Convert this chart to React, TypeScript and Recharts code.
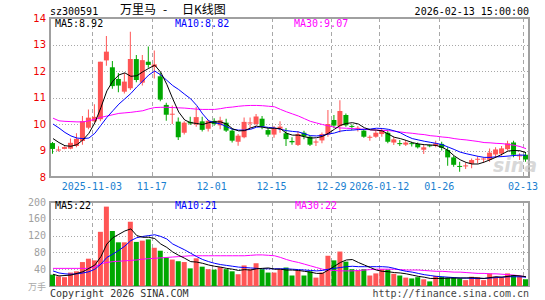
import { Bar, Cell, ComposedChart, Line, XAxis, YAxis } from 'recharts'

// trading days shown on the daily K chart
const DATES = [
  '2025-10-23', '2025-10-24', '2025-10-27', '2025-10-28', '2025-10-29', '2025-10-30', '2025-10-31',
  '2025-11-03', '2025-11-04', '2025-11-05', '2025-11-06', '2025-11-07',
  '2025-11-10', '2025-11-11', '2025-11-12', '2025-11-13', '2025-11-14',
  '2025-11-17', '2025-11-18', '2025-11-19', '2025-11-20', '2025-11-21',
  '2025-11-24', '2025-11-25', '2025-11-26', '2025-11-27', '2025-11-28',
  '2025-12-01', '2025-12-02', '2025-12-03', '2025-12-04', '2025-12-05',
  '2025-12-08', '2025-12-09', '2025-12-10', '2025-12-11', '2025-12-12',
  '2025-12-15', '2025-12-16', '2025-12-17', '2025-12-18', '2025-12-19',
  '2025-12-22', '2025-12-23', '2025-12-24', '2025-12-25', '2025-12-26',
  '2025-12-29', '2025-12-30', '2025-12-31',
  '2026-01-05', '2026-01-06', '2026-01-07', '2026-01-08', '2026-01-09',
  '2026-01-12', '2026-01-13', '2026-01-14', '2026-01-15', '2026-01-16',
  '2026-01-19', '2026-01-20', '2026-01-21', '2026-01-22', '2026-01-23',
  '2026-01-26', '2026-01-27', '2026-01-28', '2026-01-29', '2026-01-30',
  '2026-02-02', '2026-02-03', '2026-02-04', '2026-02-05', '2026-02-06',
  '2026-02-09', '2026-02-10', '2026-02-11', '2026-02-12', '2026-02-13',
]

const OPEN = [
  9.28, 9.0, 9.06, 9.07, 9.17, 9.36, 9.86, 10.1, 10.18, 12.4,
  12.14, 11.7, 11.22, 11.35, 12.45, 11.56, 12.35, 12.15, 11.8, 10.72,
  10.35, 10.09, 9.67, 10.08, 9.98, 10.1, 9.82, 10.12, 9.95, 10.05,
  9.75, 9.33, 9.5, 10.02, 10.0, 10.2, 9.77, 9.6, 9.82, 9.65,
  9.36, 9.21, 9.67, 9.52, 9.3, 9.38, 9.6, 10.15, 9.92, 10.34,
  9.92, 9.82, 9.75, 9.48, 9.52, 9.62, 9.67, 9.3, 9.28, 9.22,
  9.27, 9.25, 9.03, 9.19, 9.17, 9.25, 9.02, 8.74, 8.41, 8.4,
  8.5, 8.65, 8.66, 8.65, 8.85, 8.88, 9.05, 9.3, 8.78, 8.84,
]
const CLOSE = [
  9.06, 9.02, 9.13, 9.29, 9.44, 10.11, 10.24, 10.27, 12.35, 12.73,
  11.43, 11.45, 11.6, 12.45, 11.66, 12.41, 12.23, 12.25, 10.92, 10.35,
  10.38, 9.5, 10.05, 10.02, 10.26, 9.78, 10.12, 10.0, 10.14, 9.75,
  9.37, 9.56, 10.08, 10.06, 10.28, 9.92, 9.6, 9.84, 9.9, 9.43,
  9.31, 9.62, 9.53, 9.22, 9.34, 9.62, 10.0, 9.94, 10.49, 9.95,
  9.89, 9.85, 9.52, 9.51, 9.67, 9.77, 9.33, 9.42, 9.24, 9.3,
  9.24, 9.12, 9.12, 9.16, 9.27, 9.1, 8.74, 8.46, 8.38, 8.43,
  8.64, 8.68, 8.68, 8.92, 9.04, 9.08, 9.27, 8.84, 8.8, 8.66,
]
const HIGH = [
  9.32, 9.16, 9.16, 9.45, 9.65, 10.3, 10.55, 10.75, 12.35, 13.32,
  12.38, 11.92, 11.92, 13.48, 12.6, 12.6, 12.92, 12.77, 11.95, 10.8,
  10.7, 10.25, 10.1, 10.27, 10.65, 10.27, 10.16, 10.22, 10.27, 10.2,
  9.85, 9.62, 10.25, 10.25, 10.38, 10.3, 9.85, 9.92, 10.1, 9.85,
  9.5, 9.74, 9.75, 9.58, 9.42, 9.68, 10.53, 10.34, 10.9, 10.4,
  9.99, 9.92, 9.8, 9.58, 9.75, 9.84, 9.75, 9.52, 9.4, 9.4,
  9.33, 9.3, 9.21, 9.22, 9.37, 9.33, 9.12, 8.79, 8.58, 8.55,
  8.7, 8.77, 8.72, 9.08, 9.12, 9.17, 9.37, 9.37, 8.9, 8.92,
]
const LOW = [
  8.88, 8.96, 9.05, 9.05, 9.12, 9.22, 9.8, 10.05, 10.1, 12.2,
  11.33, 11.2, 11.15, 11.28, 11.58, 11.45, 12.12, 11.72, 10.86, 10.12,
  10.0, 9.4, 9.6, 9.96, 9.9, 9.72, 9.72, 9.93, 9.8, 9.7,
  9.3, 9.18, 9.46, 9.84, 9.93, 9.8, 9.52, 9.48, 9.67, 9.17,
  9.22, 9.17, 9.42, 9.17, 9.17, 9.27, 9.52, 9.84, 9.68, 9.9,
  9.77, 9.72, 9.48, 9.37, 9.48, 9.52, 9.27, 9.21, 9.17, 9.17,
  9.15, 9.08, 8.87, 9.12, 9.12, 9.0, 8.42, 8.39, 8.2, 8.3,
  8.33, 8.52, 8.55, 8.58, 8.75, 8.8, 9.0, 8.75, 8.64, 8.58,
]

// price moving averages
const MA5 = [
  9.45, 9.3, 9.18, 9.16, 9.22, 9.4, 9.65, 10.05, 10.62, 11.25,
  11.62, 11.85, 11.93, 11.8, 11.82, 11.97, 12.1, 12.22, 11.95, 11.5,
  10.95, 10.45, 10.15, 10.05, 10.02, 9.98, 10.05, 10.08, 10.08, 10.0,
  9.82, 9.74, 9.75, 9.85, 9.92, 9.88, 9.84, 9.84, 9.82, 9.65,
  9.58, 9.58, 9.52, 9.47, 9.48, 9.53, 9.65, 9.8, 9.95, 10.02,
  10.05, 10.0, 9.86, 9.78, 9.77, 9.74, 9.62, 9.5, 9.45, 9.38,
  9.3, 9.25, 9.22, 9.21, 9.19, 9.12, 9.0, 8.8, 8.65, 8.55,
  8.49, 8.49, 8.56, 8.65, 8.75, 8.86, 8.98, 9.0, 8.99, 8.92,
]
const MA10 = [
  10.0, 9.85, 9.68, 9.55, 9.47, 9.45, 9.47, 9.65, 9.95, 10.25,
  10.5, 10.75, 10.95, 11.15, 11.4, 11.62, 11.85, 12.0, 11.85, 11.65,
  11.45, 11.3, 11.12, 10.95, 10.7, 10.38, 10.12, 10.05, 10.0, 9.9,
  9.8, 9.77, 9.77, 9.8, 9.88, 9.9, 9.87, 9.85, 9.8, 9.75,
  9.72, 9.7, 9.63, 9.56, 9.55, 9.57, 9.62, 9.66, 9.73, 9.76,
  9.77, 9.79, 9.8, 9.81, 9.84, 9.83, 9.8, 9.74, 9.67, 9.55,
  9.45, 9.4, 9.35, 9.31, 9.27, 9.22, 9.13, 9.04, 8.94, 8.88,
  8.83, 8.78, 8.74, 8.74, 8.76, 8.77, 8.79, 8.81, 8.83, 8.82,
]
const MA30 = [
  10.22, 10.12, 10.1, 10.09, 10.08, 10.08, 10.12, 10.18, 10.25, 10.3,
  10.35, 10.4, 10.42, 10.44, 10.47, 10.5, 10.57, 10.62, 10.63, 10.63,
  10.62, 10.61, 10.6, 10.58, 10.56, 10.55, 10.55, 10.55, 10.58, 10.62,
  10.64, 10.67, 10.69, 10.7, 10.7, 10.69, 10.67, 10.65, 10.55, 10.46,
  10.38, 10.3, 10.2, 10.1, 10.04, 9.98, 9.93, 9.88, 9.85, 9.84,
  9.83, 9.81, 9.8, 9.78, 9.77, 9.76, 9.75, 9.73, 9.7, 9.67,
  9.65, 9.62, 9.6, 9.56, 9.54, 9.51, 9.49, 9.45, 9.42, 9.4,
  9.37, 9.34, 9.3, 9.29, 9.27, 9.26, 9.23, 9.2, 9.15, 9.07,
]

// volume in 万手
const VOL = [
  27, 23, 21, 32, 35, 57, 65, 61, 129, 189,
  131, 104, 104, 153, 105, 108, 111, 91, 84, 68,
  63, 59, 57, 42, 66, 46, 40, 39, 45, 40,
  35, 28, 49, 40, 54, 40, 32, 32, 40, 44,
  25, 37, 25, 35, 20, 32, 72, 61, 82, 58,
  40, 37, 40, 25, 30, 40, 39, 29, 25, 20,
  18, 21, 16, 11, 24, 22, 20, 20, 18, 14,
  22, 21, 14, 30, 22, 20, 30, 26, 22, 16,
]
const VMA5 = [
  28, 24, 25, 26, 30, 34, 42, 50, 70, 100,
  115, 123, 131, 136, 120, 116, 116, 113, 100, 92,
  81, 73, 66, 58, 57, 54, 50, 47, 45, 42,
  40, 37, 39, 38, 41, 42, 43, 40, 40, 38,
  38, 37, 35, 33, 30, 30, 38, 47, 56, 62,
  63, 56, 50, 44, 38, 35, 34, 32, 31, 29,
  26, 23, 21, 18, 18, 18, 19, 19, 19, 19,
  20, 19, 18, 20, 22, 21, 23, 25, 24, 22,
]
const VMA10 = [
  36, 31, 29, 28, 29, 31, 34, 40, 52, 68,
  76, 85, 95, 108, 115, 118, 120, 122, 118, 112,
  100, 93, 86, 78, 70, 63, 58, 54, 51, 49,
  47, 45, 44, 43, 42, 41, 41, 41, 41, 41,
  40, 39, 38, 37, 36, 37, 40, 42, 44, 46,
  47, 46, 46, 46, 46, 46, 45, 42, 38, 35,
  33, 30, 27, 25, 23, 22, 21, 20, 19, 19,
  18, 18, 18, 19, 20, 21, 22, 22, 22, 21,
]
const VMA30 = [
  42, 42, 42, 42, 42, 42, 42, 46, 53, 56,
  58, 59, 60, 61, 62, 64, 65, 66, 67, 68,
  69, 70, 71, 72, 72, 72, 72, 72, 72, 72,
  72, 72, 72, 73, 74, 74, 73, 72, 68, 63,
  59, 56, 52, 48, 44, 40, 38, 37, 36, 36,
  36, 37, 38, 39, 40, 40, 40, 40, 39, 38,
  38, 38, 37, 36, 35, 35, 34, 33, 33, 32,
  31, 30, 30, 29, 29, 28, 27, 26, 24, 22,
]

const TICK_DATES = ['2025-11-03', '2025-11-17', '2025-12-01', '2025-12-15', '2025-12-29', '2026-01-12', '2026-01-26', '2026-02-13']
const TICK_LABELS = ['2025-11-03', '11-17', '12-01', '12-15', '12-29', '2026-01-12', '01-26', '02-13']
const PRICE_DOMAIN = [8, 14]
const PRICE_TICKS = [8, 9, 10, 11, 12, 13, 14]
const PRICE_GRID = [9, 10, 11, 12, 13]
const VOL_DOMAIN = [0, 200]
const VOL_TICKS = [40, 80, 120, 160, 200]
const VOL_GRID = [40, 80, 120, 160]

const RED = '#ff5555'
const GREEN = '#00a800'
const MONO = '"DejaVu Sans Mono", "Liberation Mono", monospace'
const GRID = '#a8a8a8'

// layout of the two panels (page pixels)
const W = 545
const LEFT = 50
const RIGHT = 16
const P_TOP = 18
const P_H = 159
const V_OFF = 190
const V_TOP = 12
const V_H = 84

const rows = DATES.map((d, i) => ({
  d,
  body: [Math.min(OPEN[i], CLOSE[i]), Math.max(OPEN[i], CLOSE[i])],
  wick: [LOW[i], HIGH[i]],
  up: CLOSE[i] >= OPEN[i],
  ma5: MA5[i],
  ma10: MA10[i],
  ma30: MA30[i],
  vol: VOL[i],
  vma5: VMA5[i],
  vma10: VMA10[i],
  vma30: VMA30[i],
}))

// panel grid: dotted value lines, dashed day lines on the left edge of the labelled slot, frame
function PanelGrid({ top, h, domain, grid }: { top: number; h: number; domain: number[]; grid: number[] }) {
  const plotW = W - LEFT - RIGHT
  const slot = plotW / DATES.length
  const yOf = (v: number) => top + ((domain[1] - v) / (domain[1] - domain[0])) * h
  const dayXs = TICK_DATES.map((d) => Math.round(LEFT + slot * DATES.indexOf(d)) + 0.5)
  return (
    <g shapeRendering="crispEdges" fill="none">
      {grid.map((v) => (
        <path key={'h' + v} d={`M${LEFT} ${Math.round(yOf(v)) + 0.5}H${LEFT + plotW}`} stroke={GRID} strokeDasharray="1 2" />
      ))}
      {dayXs.map((x) => (
        <path key={'v' + x} d={`M${x} ${top}V${top + h}`} stroke={GRID} strokeDasharray="4 3" />
      ))}
      <path d={`M${LEFT} ${top}H${LEFT + plotW}V${top + h}H${LEFT}Z`} stroke="#a0a0a0" strokeWidth={2} />
    </g>
  )
}

function PriceChart() {
  return (
    <ComposedChart width={W} height={200} data={rows} margin={{ top: P_TOP, right: RIGHT, bottom: 3, left: 0 }}>
      <XAxis
        dataKey="d"
        ticks={TICK_DATES}
        interval={0}
        tickFormatter={(v) => TICK_LABELS[TICK_DATES.indexOf(v)]}
        tickLine={false}
        axisLine={false}
        tickSize={0}
        tickMargin={6}
        height={20}
        tick={{ fill: '#1a7fd0', fontSize: 10, fontFamily: MONO, dx: -3 }}
      />
      <XAxis xAxisId="w" dataKey="d" hide height={0} />
      <YAxis
        domain={PRICE_DOMAIN}
        ticks={PRICE_TICKS}
        interval={0}
        width={LEFT}
        tickLine={false}
        axisLine={false}
        tickSize={0}
        tickMargin={4}
        tick={{ fill: '#ee0000', fontSize: 10, fontFamily: '"DejaVu Sans", sans-serif' }}
      />
      <Bar xAxisId="w" dataKey="wick" barSize={1} isAnimationActive={false}>
        {rows.map((r, i) => (
          <Cell key={i} fill={r.up ? RED : GREEN} />
        ))}
      </Bar>
      <Bar dataKey="body" barSize={5} minPointSize={1} isAnimationActive={false}>
        {rows.map((r, i) => (
          <Cell key={i} fill={r.up ? RED : GREEN} />
        ))}
      </Bar>
      <Line dataKey="ma30" stroke="#ff00ff" strokeWidth={1} dot={false} isAnimationActive={false} />
      <Line dataKey="ma10" stroke="#0000ff" strokeWidth={1} dot={false} isAnimationActive={false} />
      <Line dataKey="ma5" stroke="#000" strokeWidth={1} dot={false} isAnimationActive={false} />
    </ComposedChart>
  )
}

function VolumeChart() {
  return (
    <ComposedChart width={W} height={110} data={rows} margin={{ top: V_TOP, right: RIGHT, bottom: 110 - V_TOP - V_H, left: 0 }}>
      <XAxis dataKey="d" hide height={0} />
      <YAxis
        domain={VOL_DOMAIN}
        ticks={VOL_TICKS}
        interval={0}
        width={LEFT}
        tickLine={false}
        axisLine={false}
        tickSize={0}
        tickMargin={4}
        tick={{ fill: '#a0a0a0', fontSize: 10, fontFamily: MONO }}
      />
      <Bar dataKey="vol" barSize={5} isAnimationActive={false}>
        {rows.map((r, i) => (
          <Cell key={i} fill={r.up ? RED : GREEN} />
        ))}
      </Bar>
      <Line dataKey="vma30" stroke="#ff00ff" strokeWidth={1} dot={false} isAnimationActive={false} />
      <Line dataKey="vma10" stroke="#0000ff" strokeWidth={1} dot={false} isAnimationActive={false} />
      <Line dataKey="vma5" stroke="#000" strokeWidth={1} dot={false} isAnimationActive={false} />
    </ComposedChart>
  )
}

export default function App() {
  const txt = { fontFamily: MONO, fontSize: 10 }
  return (
    <div style={{ position: 'absolute', left: 0, top: 0, width: W, height: 300, background: '#fff' }}>
      <svg width={W} height={300} style={{ position: 'absolute', left: 0, top: 0 }}>
        <PanelGrid top={P_TOP} h={P_H} domain={PRICE_DOMAIN} grid={PRICE_GRID} />
        <PanelGrid top={V_OFF + V_TOP} h={V_H} domain={VOL_DOMAIN} grid={VOL_GRID} />
      </svg>
      <div style={{ position: 'absolute', left: 0, top: 0 }}>
        <PriceChart />
      </div>
      <div style={{ position: 'absolute', left: 0, top: V_OFF }}>
        <VolumeChart />
      </div>
      <svg width={W} height={300} style={{ position: 'absolute', left: 0, top: 0, pointerEvents: 'none' }}>
        <text x={50} y={15} {...txt} fill="#000">sz300591</text>
        <g fontFamily='"Noto Sans CJK SC", sans-serif' fontSize={12} fill="#000">
          <text x={120} y={14}>万里马</text>
          <text x={163} y={14}>-</text>
          <text x={182} y={14}>日K线图</text>
        </g>
        <text x={529} y={15} {...txt} fill="#000" textAnchor="end">2026-02-13 15:00:00</text>

        <text x={55} y={27} {...txt} fill="#000">MA5:8.92</text>
        <text x={175} y={27} {...txt} fill="#0000ff">MA10:8.82</text>
        <text x={294} y={27} {...txt} fill="#ff00ff">MA30:9.07</text>

        <text x={55} y={209} {...txt} fill="#000">MA5:22</text>
        <text x={175} y={209} {...txt} fill="#0000ff">MA10:21</text>
        <text x={295} y={209} {...txt} fill="#ff00ff">MA30:22</text>

        <text x={28} y={290} fontFamily='"Noto Sans CJK SC", sans-serif' fontSize={9} fill="#aaa">万手</text>
        <text x={50} y={297} {...txt} fill="#333">Copyright 2026 SINA.COM</text>
        <text x={529} y={297} {...txt} fill="#444" textAnchor="end">http://finance.sina.com.cn</text>

        <text x={493} y={172} fontFamily='"DejaVu Sans", sans-serif' fontSize={19} fontWeight="bold" fontStyle="italic" fill="#c8c8c8" opacity={0.7}>sina</text>
      </svg>
    </div>
  )
}
